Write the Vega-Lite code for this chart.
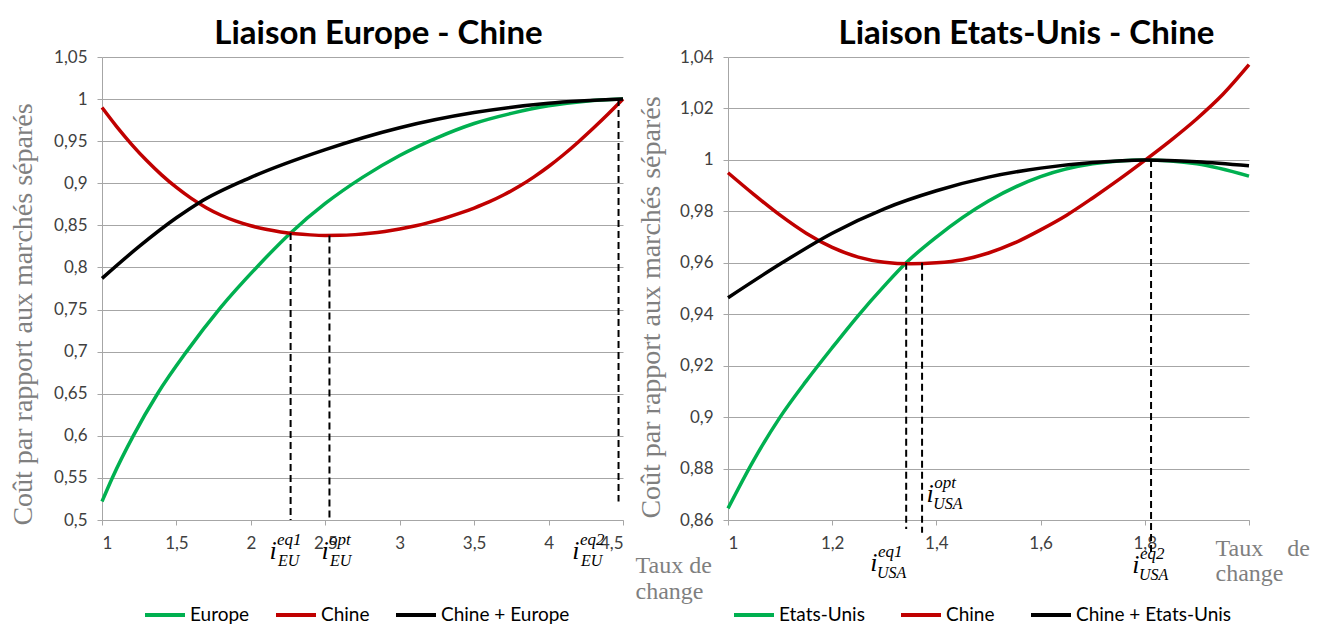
{
  "$schema": "https://vega.github.io/schema/vega-lite/v6.json",
  "padding": {"left": 8, "top": 18, "right": 5, "bottom": 2},
  "background": "white",
  "config": {
    "view": {"stroke": null},
    "font": "Lato",
    "axis": {
      "labelFont": "Lato", "labelFontSize": 17, "labelColor": "#404040", "labelPadding": 10,
      "titleFont": "Liberation Serif", "titleFontWeight": "normal", "titleColor": "#7f7f7f", "titleFontSize": 24,
      "gridColor": "#a6a6a6", "domainColor": "#a6a6a6", "tickColor": "#a6a6a6", "tickSize": 5
    },
    "title": {"font": "Lato", "fontSize": 33, "fontWeight": "bold", "color": "#000000", "offset": -3},
    "legend": {
      "orient": "none", "direction": "horizontal", "title": null, "symbolType": "stroke",
      "symbolSize": 1600, "symbolStrokeWidth": 4, "labelFont": "Lato", "labelFontSize": 19,
      "labelColor": "#000000", "labelOffset": 3
    }
  },
  "datasets": {
    "leftCurves": [
      {"x": 1.0, "y": 0.522, "s": "Europe"}, {"x": 1.069, "y": 0.55, "s": "Europe"}, {"x": 1.21, "y": 0.60, "s": "Europe"},
      {"x": 1.373, "y": 0.65, "s": "Europe"}, {"x": 1.568, "y": 0.70, "s": "Europe"}, {"x": 1.795, "y": 0.752, "s": "Europe"},
      {"x": 2.054, "y": 0.803, "s": "Europe"}, {"x": 2.267, "y": 0.841, "s": "Europe"}, {"x": 2.5, "y": 0.876, "s": "Europe"},
      {"x": 2.75, "y": 0.907, "s": "Europe"}, {"x": 3.0, "y": 0.933, "s": "Europe"}, {"x": 3.25, "y": 0.954, "s": "Europe"},
      {"x": 3.5, "y": 0.971, "s": "Europe"}, {"x": 3.75, "y": 0.983, "s": "Europe"}, {"x": 4.0, "y": 0.992, "s": "Europe"},
      {"x": 4.25, "y": 0.9975, "s": "Europe"}, {"x": 4.5, "y": 1.0, "s": "Europe"},
      {"x": 1.0, "y": 0.99, "s": "Chine"}, {"x": 1.1, "y": 0.967, "s": "Chine"}, {"x": 1.2, "y": 0.946, "s": "Chine"},
      {"x": 1.3, "y": 0.927, "s": "Chine"}, {"x": 1.4, "y": 0.91, "s": "Chine"}, {"x": 1.5, "y": 0.895, "s": "Chine"},
      {"x": 1.6, "y": 0.882, "s": "Chine"}, {"x": 1.7, "y": 0.871, "s": "Chine"}, {"x": 1.8, "y": 0.862, "s": "Chine"},
      {"x": 1.9, "y": 0.855, "s": "Chine"}, {"x": 2.0, "y": 0.8495, "s": "Chine"}, {"x": 2.1, "y": 0.8453, "s": "Chine"},
      {"x": 2.2, "y": 0.8422, "s": "Chine"}, {"x": 2.3, "y": 0.84, "s": "Chine"}, {"x": 2.4, "y": 0.8387, "s": "Chine"},
      {"x": 2.5, "y": 0.8381, "s": "Chine"}, {"x": 2.6, "y": 0.8382, "s": "Chine"}, {"x": 2.7, "y": 0.839, "s": "Chine"},
      {"x": 2.8, "y": 0.8405, "s": "Chine"}, {"x": 2.9, "y": 0.8427, "s": "Chine"}, {"x": 3.0, "y": 0.8456, "s": "Chine"},
      {"x": 3.1, "y": 0.8492, "s": "Chine"}, {"x": 3.2, "y": 0.8535, "s": "Chine"}, {"x": 3.3, "y": 0.8585, "s": "Chine"},
      {"x": 3.4, "y": 0.8642, "s": "Chine"}, {"x": 3.5, "y": 0.8706, "s": "Chine"}, {"x": 3.6, "y": 0.8778, "s": "Chine"},
      {"x": 3.7, "y": 0.8863, "s": "Chine"}, {"x": 3.8, "y": 0.8961, "s": "Chine"}, {"x": 3.9, "y": 0.9073, "s": "Chine"},
      {"x": 4.0, "y": 0.9199, "s": "Chine"}, {"x": 4.1, "y": 0.9339, "s": "Chine"}, {"x": 4.2, "y": 0.9491, "s": "Chine"},
      {"x": 4.3, "y": 0.9653, "s": "Chine"}, {"x": 4.4, "y": 0.9822, "s": "Chine"}, {"x": 4.5, "y": 1.0, "s": "Chine"},
      {"x": 1.0, "y": 0.787, "s": "Chine + Europe"}, {"x": 1.25, "y": 0.825, "s": "Chine + Europe"}, {"x": 1.5, "y": 0.859, "s": "Chine + Europe"},
      {"x": 1.653, "y": 0.877, "s": "Chine + Europe"}, {"x": 2.0, "y": 0.907, "s": "Chine + Europe"}, {"x": 2.5, "y": 0.94, "s": "Chine + Europe"},
      {"x": 3.0, "y": 0.966, "s": "Chine + Europe"}, {"x": 3.5, "y": 0.984, "s": "Chine + Europe"}, {"x": 4.0, "y": 0.995, "s": "Chine + Europe"},
      {"x": 4.5, "y": 1.0, "s": "Chine + Europe"}
    ],
    "rightCurves": [
      {"x": 1.0, "y": 0.8645, "s": "Etats-Unis"}, {"x": 1.05, "y": 0.8835, "s": "Etats-Unis"}, {"x": 1.1, "y": 0.9, "s": "Etats-Unis"},
      {"x": 1.15, "y": 0.914, "s": "Etats-Unis"}, {"x": 1.2, "y": 0.927, "s": "Etats-Unis"}, {"x": 1.25, "y": 0.9395, "s": "Etats-Unis"},
      {"x": 1.3, "y": 0.951, "s": "Etats-Unis"}, {"x": 1.342, "y": 0.96, "s": "Etats-Unis"}, {"x": 1.4, "y": 0.97, "s": "Etats-Unis"},
      {"x": 1.5, "y": 0.984, "s": "Etats-Unis"}, {"x": 1.6, "y": 0.9935, "s": "Etats-Unis"}, {"x": 1.7, "y": 0.9985, "s": "Etats-Unis"},
      {"x": 1.8, "y": 1.0, "s": "Etats-Unis"}, {"x": 1.9, "y": 0.9985, "s": "Etats-Unis"}, {"x": 2.0, "y": 0.9937, "s": "Etats-Unis"},
      {"x": 1.0, "y": 0.995, "s": "Chine"}, {"x": 1.05, "y": 0.9865, "s": "Chine"}, {"x": 1.1, "y": 0.9785, "s": "Chine"},
      {"x": 1.15, "y": 0.9715, "s": "Chine"}, {"x": 1.2, "y": 0.966, "s": "Chine"}, {"x": 1.25, "y": 0.9622, "s": "Chine"},
      {"x": 1.3, "y": 0.9602, "s": "Chine"}, {"x": 1.35, "y": 0.9596, "s": "Chine"}, {"x": 1.4, "y": 0.96, "s": "Chine"},
      {"x": 1.45, "y": 0.9612, "s": "Chine"}, {"x": 1.5, "y": 0.9638, "s": "Chine"}, {"x": 1.55, "y": 0.9677, "s": "Chine"},
      {"x": 1.6, "y": 0.9728, "s": "Chine"}, {"x": 1.65, "y": 0.9785, "s": "Chine"}, {"x": 1.7, "y": 0.9852, "s": "Chine"},
      {"x": 1.75, "y": 0.9923, "s": "Chine"}, {"x": 1.8, "y": 0.9998, "s": "Chine"}, {"x": 1.85, "y": 1.0076, "s": "Chine"},
      {"x": 1.9, "y": 1.016, "s": "Chine"}, {"x": 1.95, "y": 1.0255, "s": "Chine"}, {"x": 2.0, "y": 1.037, "s": "Chine"},
      {"x": 1.0, "y": 0.9464, "s": "Chine + Etats-Unis"}, {"x": 1.1, "y": 0.9595, "s": "Chine + Etats-Unis"}, {"x": 1.2, "y": 0.9715, "s": "Chine + Etats-Unis"},
      {"x": 1.3, "y": 0.981, "s": "Chine + Etats-Unis"}, {"x": 1.4, "y": 0.988, "s": "Chine + Etats-Unis"}, {"x": 1.5, "y": 0.9933, "s": "Chine + Etats-Unis"},
      {"x": 1.6, "y": 0.9968, "s": "Chine + Etats-Unis"}, {"x": 1.7, "y": 0.999, "s": "Chine + Etats-Unis"}, {"x": 1.8, "y": 1.0, "s": "Chine + Etats-Unis"},
      {"x": 1.9, "y": 0.9993, "s": "Chine + Etats-Unis"}, {"x": 2.0, "y": 0.9977, "s": "Chine + Etats-Unis"}
    ],
    "leftRules": [
      {"x": 2.267, "y": 0.841, "y2": 0.5}, {"x": 2.528, "y": 0.838, "y2": 0.5}, {"x": 4.47, "y": 1.0, "y2": 0.522}
    ],
    "rightRules": [
      {"x": 1.342, "y": 0.96, "y2": 0.8565}, {"x": 1.3725, "y": 0.96, "y2": 0.855}, {"x": 1.812, "y": 1.0, "y2": 0.8475}
    ],
    "leftAnn": [
      {"x": 2.149, "y": 0.4537, "sup": "eq1", "sub": "EU"},
      {"x": 2.498, "y": 0.4537, "sup": "opt", "sub": "EU"},
      {"x": 4.184, "y": 0.4537, "sup": "eq2", "sub": "EU"}
    ],
    "rightAnn": [
      {"x": 1.28, "y": 0.8402, "sup": "eq1", "sub": "USA"},
      {"x": 1.388, "y": 0.867, "sup": "opt", "sub": "USA"},
      {"x": 1.783, "y": 0.8394, "sup": "eq2", "sub": "USA"}
    ]
  },
  "bounds": "flush",
  "spacing": 105,
  "resolve": {"scale": {"x": "independent", "y": "independent", "color": "independent"}, "legend": {"color": "independent"}},
  "hconcat": [
    {
      "width": 521, "height": 463,
      "title": {"text": "Liaison Europe - Chine", "dx": 16},
      "layer": [
        {
          "data": {"name": "leftCurves"},
          "mark": {"type": "line", "interpolate": "monotone", "strokeWidth": 3.5},
          "encoding": {
            "x": {"field": "x", "type": "quantitative", "scale": {"domain": [1, 4.5], "nice": false, "zero": false},
              "axis": {"values": [1, 1.5, 2, 2.5, 3, 3.5, 4, 4.5], "grid": false,
                "labelExpr": "replace(format(datum.value, '~g'), '.', ',')",
                "title": ["Taux de", "change"], "titleX": 533, "titleY": 52, "titleAlign": "left", "titleBaseline": "alphabetic", "titleLineHeight": 26}},
            "y": {"field": "y", "type": "quantitative", "scale": {"domain": [0.5, 1.05], "nice": false, "zero": false},
              "axis": {"values": [0.5, 0.55, 0.6, 0.65, 0.7, 0.75, 0.8, 0.85, 0.9, 0.95, 1, 1.05],
                "labelExpr": "replace(format(datum.value, '~g'), '.', ',')",
                "title": "Coût par rapport aux marchés séparés", "titleX": -79, "titleY": 257, "titleBaseline": "middle", "titleFontSize": 28}},
            "color": {"field": "s", "type": "nominal",
              "scale": {"domain": ["Europe", "Chine", "Chine + Europe"], "range": ["#00b050", "#c00000", "#000000"]},
              "legend": {"legendX": 41, "legendY": 536, "columnPadding": 18}}
          }
        },
        {
          "data": {"name": "leftRules"},
          "mark": {"type": "rule", "strokeDash": [7, 4], "strokeWidth": 2, "color": "#000000"},
          "encoding": {
            "x": {"field": "x", "type": "quantitative"},
            "y": {"field": "y", "type": "quantitative"},
            "y2": {"field": "y2"}
          }
        },
        {
          "data": {"name": "leftAnn"},
          "mark": {"type": "text", "text": "i", "font": "Liberation Serif", "fontStyle": "italic", "fontSize": 26, "align": "center", "baseline": "alphabetic", "color": "#000000"},
          "encoding": {"x": {"field": "x", "type": "quantitative"}, "y": {"field": "y", "type": "quantitative"}}
        },
        {
          "data": {"name": "leftAnn"},
          "mark": {"type": "text", "font": "Liberation Serif", "fontStyle": "italic", "fontSize": 17, "align": "left", "baseline": "alphabetic", "dx": 4, "dy": -14, "color": "#000000"},
          "encoding": {"x": {"field": "x", "type": "quantitative"}, "y": {"field": "y", "type": "quantitative"}, "text": {"field": "sup"}}
        },
        {
          "data": {"name": "leftAnn"},
          "mark": {"type": "text", "font": "Liberation Serif", "fontStyle": "italic", "fontSize": 16, "align": "left", "baseline": "alphabetic", "dx": 5, "dy": 7, "color": "#000000"},
          "encoding": {"x": {"field": "x", "type": "quantitative"}, "y": {"field": "y", "type": "quantitative"}, "text": {"field": "sub"}}
        }
      ]
    },
    {
      "width": 521, "height": 463,
      "title": {"text": "Liaison Etats-Unis - Chine", "dx": 38},
      "layer": [
        {
          "data": {"name": "rightCurves"},
          "mark": {"type": "line", "interpolate": "monotone", "strokeWidth": 3.5},
          "encoding": {
            "x": {"field": "x", "type": "quantitative", "scale": {"domain": [1, 2], "nice": false, "zero": false},
              "axis": {"values": [1, 1.2, 1.4, 1.6, 1.8, 2], "grid": false,
                "labelExpr": "datum.value >= 1.99 ? '' : replace(format(datum.value, '~g'), '.', ',')",
                "title": ["Taux\u00a0\u00a0\u00a0\u00a0de", "change"], "titleX": 487, "titleY": 35, "titleAlign": "left", "titleBaseline": "alphabetic", "titleLineHeight": 25}},
            "y": {"field": "y", "type": "quantitative", "scale": {"domain": [0.86, 1.04], "nice": false, "zero": false},
              "axis": {"values": [0.86, 0.88, 0.9, 0.92, 0.94, 0.96, 0.98, 1, 1.02, 1.04],
                "labelExpr": "replace(format(datum.value, '~g'), '.', ',')",
                "title": "Coût par rapport aux marchés séparés", "titleX": -77, "titleY": 250, "titleBaseline": "middle", "titleFontSize": 28}},
            "color": {"field": "s", "type": "nominal",
              "scale": {"domain": ["Etats-Unis", "Chine", "Chine + Etats-Unis"], "range": ["#00b050", "#c00000", "#000000"]},
              "legend": {"legendX": 4, "legendY": 536, "columnPadding": 28}}
          }
        },
        {
          "data": {"name": "rightRules"},
          "mark": {"type": "rule", "strokeDash": [7, 4], "strokeWidth": 2, "color": "#000000"},
          "encoding": {
            "x": {"field": "x", "type": "quantitative"},
            "y": {"field": "y", "type": "quantitative"},
            "y2": {"field": "y2"}
          }
        },
        {
          "data": {"name": "rightAnn"},
          "mark": {"type": "text", "text": "i", "font": "Liberation Serif", "fontStyle": "italic", "fontSize": 26, "align": "center", "baseline": "alphabetic", "color": "#000000"},
          "encoding": {"x": {"field": "x", "type": "quantitative"}, "y": {"field": "y", "type": "quantitative"}}
        },
        {
          "data": {"name": "rightAnn"},
          "mark": {"type": "text", "font": "Liberation Serif", "fontStyle": "italic", "fontSize": 17, "align": "left", "baseline": "alphabetic", "dx": 4, "dy": -14, "color": "#000000"},
          "encoding": {"x": {"field": "x", "type": "quantitative"}, "y": {"field": "y", "type": "quantitative"}, "text": {"field": "sup"}}
        },
        {
          "data": {"name": "rightAnn"},
          "mark": {"type": "text", "font": "Liberation Serif", "fontStyle": "italic", "fontSize": 16, "align": "left", "baseline": "alphabetic", "dx": 3, "dy": 7, "color": "#000000"},
          "encoding": {"x": {"field": "x", "type": "quantitative"}, "y": {"field": "y", "type": "quantitative"}, "text": {"field": "sub"}}
        }
      ]
    }
  ]
}
